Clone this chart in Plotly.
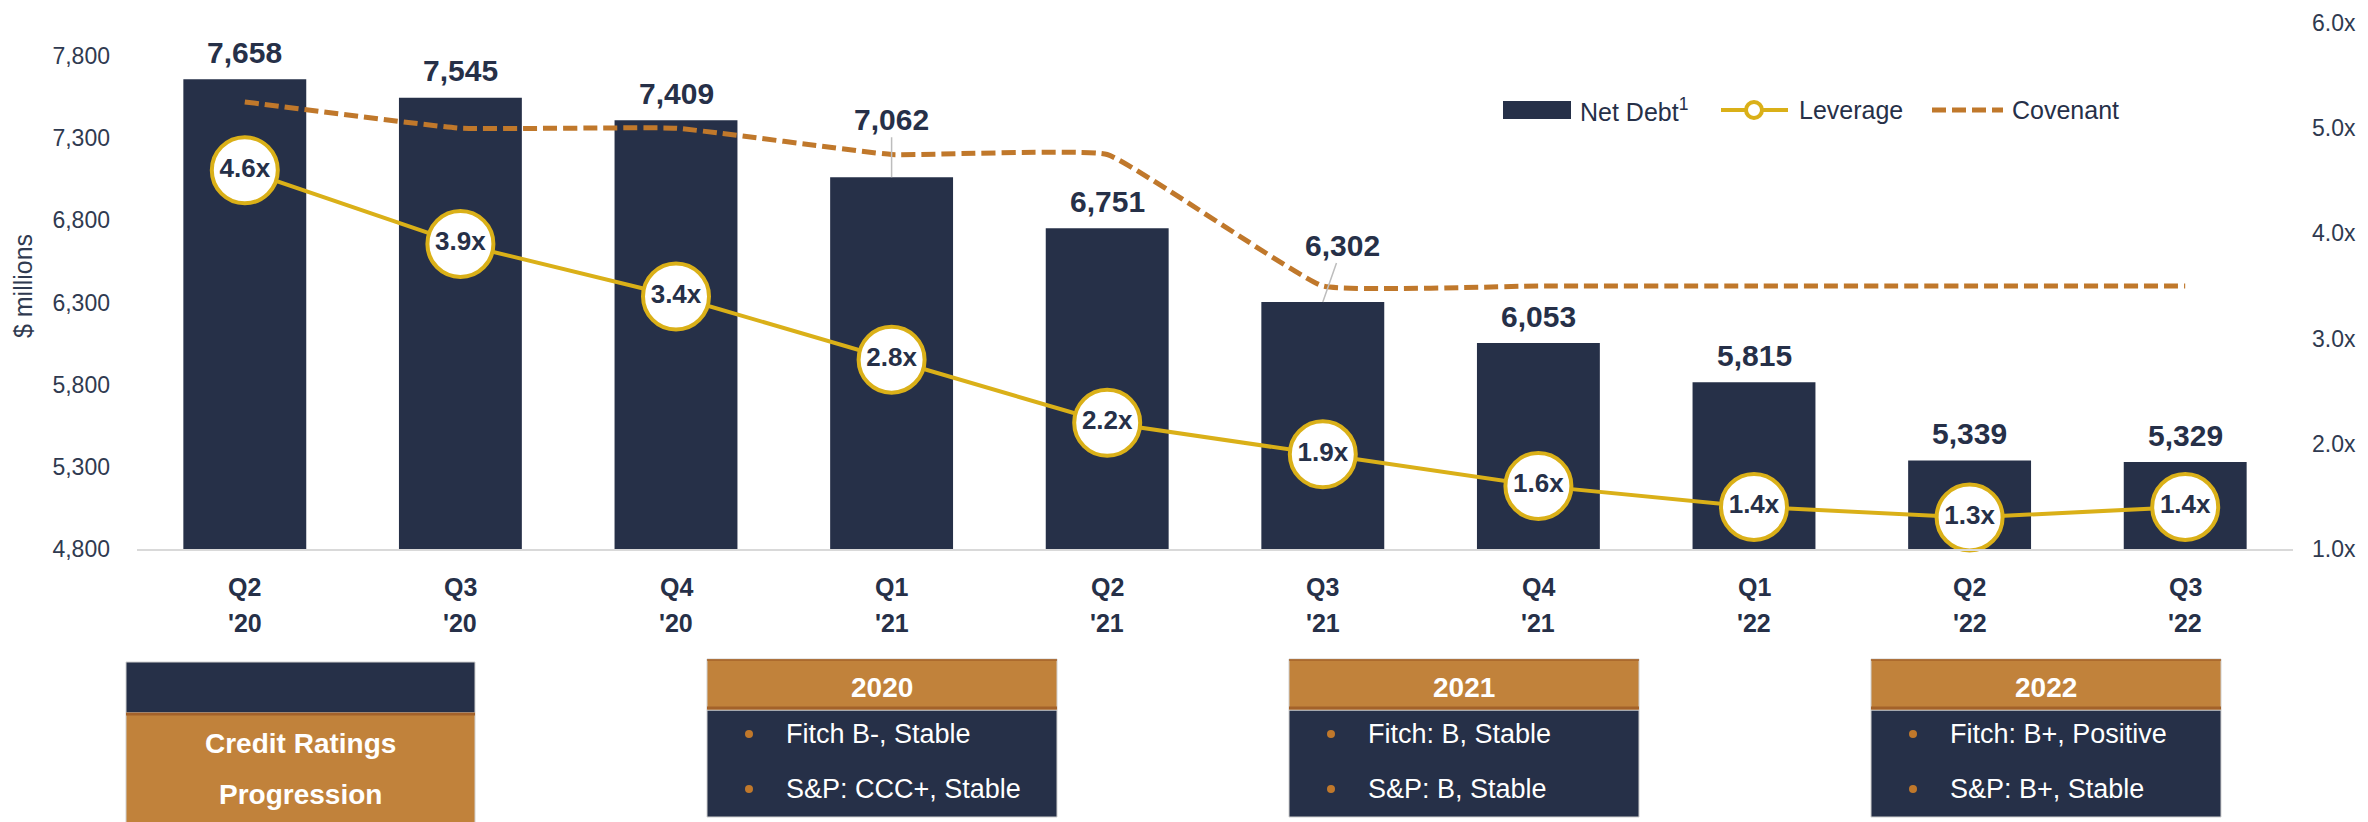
import plotly.graph_objects as go

# ---------------- data ----------------
quarter_names = ["Q2", "Q3", "Q4", "Q1", "Q2", "Q3", "Q4", "Q1", "Q2", "Q3"]
year_names = ["'20", "'20", "'20", "'21", "'21", "'21", "'21", "'22", "'22", "'22"]
quarters = [f"{q} {y}" for q, y in zip(quarter_names, year_names)]
net_debt = [7658, 7545, 7409, 7062, 6751, 6302, 6053, 5815, 5339, 5329]
leverage = [4.6, 3.9, 3.4, 2.8, 2.2, 1.9, 1.6, 1.4, 1.3, 1.4]
covenant = [5.25, 5.0, 5.0, 4.75, 4.75, 3.5, 3.5, 3.5, 3.5, 3.5]
left_ticks = [4800, 5300, 5800, 6300, 6800, 7300, 7800]
right_ticks = [1, 2, 3, 4, 5, 6]

rating_years = ["2020", "2021", "2022"]
fitch = ["Fitch B-, Stable", "Fitch: B, Stable", "Fitch: B+, Positive"]
sp = ["S&P: CCC+, Stable", "S&P: B, Stable", "S&P: B+, Stable"]

# ---------------- styles ----------------
PAGE_OFF = 8                      # default body margin of the html page
W, H = 2368 - PAGE_OFF, 822 - PAGE_OFF
PLOT_L, PLOT_R, PLOT_T, PLOT_B = 137, 2293, 23, 549   # page pixel coords
PW, PH = PLOT_R - PLOT_L, PLOT_B - PLOT_T
ML, MT = PLOT_L - PAGE_OFF, PLOT_T - PAGE_OFF
MR, MB = W - ML - PW, H - MT - PH
NAVY = "#263048"
ORANGE = "#C1823B"
ORANGE_DK = "#A4622A"
COV = "#C0782B"
GOLD = "#DAB018"
TICKC = "#2F3A50"
FONT = "Liberation Sans, Arial, sans-serif"


def px_x(p):
    return (p - PLOT_L) / PW


def px_y(p):
    return (PLOT_B - p) / PH


fig = go.Figure()

fig.add_trace(go.Bar(
    x=quarters, y=net_debt, name="Net Debt", marker=dict(color=NAVY, line=dict(width=0)),
    width=0.57, yaxis="y", showlegend=False, hoverinfo="skip"))

fig.add_trace(go.Scatter(
    x=quarters, y=covenant, name="Covenant", mode="lines", yaxis="y2",
    line=dict(color=COV, width=5, dash="14px,6px", shape="spline", smoothing=0.3),
    showlegend=False, hoverinfo="skip"))

fig.add_trace(go.Scatter(
    x=quarters, y=leverage, name="Leverage", mode="lines+markers+text", yaxis="y2",
    line=dict(color=GOLD, width=4),
    marker=dict(size=66, color="white", line=dict(color=GOLD, width=4)),
    text=[f"{v:.1f}x" for v in leverage], textposition="middle center",
    textfont=dict(family=FONT, size=26, color=NAVY, weight="bold"),
    showlegend=False, hoverinfo="skip", cliponaxis=False))

annotations = []
shapes = []

# category labels (two lines, wide spacing)
for q, qn, yn in zip(quarters, quarter_names, year_names):
    annotations.append(dict(x=q, xref="x", y=px_y(587), yref="paper", text=qn,
                            showarrow=False, xanchor="center", yanchor="middle",
                            font=dict(family=FONT, size=25, color=NAVY, weight="bold")))
    annotations.append(dict(x=q, xref="x", y=px_y(623), yref="paper", text=yn,
                            showarrow=False, xanchor="center", yanchor="middle",
                            font=dict(family=FONT, size=25, color=NAVY, weight="bold")))

# bar value labels
special = {3: (0, -58), 5: (20, -57)}
for i, (q, v) in enumerate(zip(quarters, net_debt)):
    if i in special:
        ax, ay = special[i]
        annotations.append(dict(
            x=q, y=v, xref="x", yref="y", text=f"{v:,}", showarrow=True,
            ax=ax, ay=ay, arrowhead=0, arrowwidth=1.5, arrowcolor="#BDBDBD", standoff=0,
            font=dict(family=FONT, size=30, color=NAVY, weight="bold")))
    else:
        annotations.append(dict(
            x=q, y=v, xref="x", yref="y", text=f"{v:,}", showarrow=False,
            yshift=27, yanchor="middle",
            font=dict(family=FONT, size=30, color=NAVY, weight="bold")))

# ---------------- legend (drawn) ----------------
LY = 110
shapes.append(dict(type="rect", xref="paper", yref="paper",
                   x0=px_x(1503), x1=px_x(1571), y0=px_y(119), y1=px_y(101),
                   fillcolor=NAVY, line=dict(width=0)))
annotations.append(dict(xref="paper", yref="paper", x=px_x(1578), y=px_y(LY),
                        xanchor="left", yanchor="middle", showarrow=False,
                        text="Net Debt<sup>1</sup>",
                        font=dict(family=FONT, size=25, color=NAVY)))
shapes.append(dict(type="line", xref="paper", yref="paper",
                   x0=px_x(1721), x1=px_x(1788), y0=px_y(LY), y1=px_y(LY),
                   line=dict(color=GOLD, width=4)))
shapes.append(dict(type="circle", xref="paper", yref="paper",
                   x0=px_x(1746), x1=px_x(1762), y0=px_y(118), y1=px_y(102),
                   fillcolor="white", line=dict(color=GOLD, width=4)))
annotations.append(dict(xref="paper", yref="paper", x=px_x(1797), y=px_y(LY),
                        xanchor="left", yanchor="middle", showarrow=False,
                        text="Leverage", font=dict(family=FONT, size=25, color=NAVY)))
shapes.append(dict(type="line", xref="paper", yref="paper",
                   x0=px_x(1932), x1=px_x(2003), y0=px_y(LY), y1=px_y(LY),
                   line=dict(color=COV, width=5, dash="14px,6px")))
annotations.append(dict(xref="paper", yref="paper", x=px_x(2010), y=px_y(LY),
                        xanchor="left", yanchor="middle", showarrow=False,
                        text="Covenant", font=dict(family=FONT, size=25, color=NAVY)))

# ---------------- credit ratings boxes ----------------
shapes.append(dict(type="rect", xref="paper", yref="paper",
                   x0=px_x(126), x1=px_x(475), y0=px_y(713), y1=px_y(662),
                   fillcolor=NAVY, line=dict(color="#D0D0D0", width=1)))
shapes.append(dict(type="rect", xref="paper", yref="paper",
                   x0=px_x(126), x1=px_x(475), y0=px_y(830), y1=px_y(713),
                   fillcolor=ORANGE, line=dict(color="#D0D0D0", width=1)))
shapes.append(dict(type="line", xref="paper", yref="paper",
                   x0=px_x(126), x1=px_x(475), y0=px_y(714), y1=px_y(714),
                   line=dict(color=ORANGE_DK, width=3)))
annotations.append(dict(xref="paper", yref="paper", x=px_x(300.5), y=px_y(743),
                        xanchor="center", yanchor="middle", showarrow=False,
                        text="Credit Ratings",
                        font=dict(family=FONT, size=28, color="white", weight="bold")))
annotations.append(dict(xref="paper", yref="paper", x=px_x(300.5), y=px_y(795),
                        xanchor="center", yanchor="middle", showarrow=False,
                        text="Progression",
                        font=dict(family=FONT, size=28, color="white", weight="bold")))

box_lefts = [707, 1289, 1871]
BW = 350
for left, yr, f, s in zip(box_lefts, rating_years, fitch, sp):
    shapes.append(dict(type="rect", xref="paper", yref="paper",
                       x0=px_x(left), x1=px_x(left + BW), y0=px_y(817), y1=px_y(710),
                       fillcolor=NAVY, line=dict(color="#D0D0D0", width=1)))
    shapes.append(dict(type="rect", xref="paper", yref="paper",
                       x0=px_x(left), x1=px_x(left + BW), y0=px_y(710), y1=px_y(659),
                       fillcolor=ORANGE, line=dict(color="#D0D0D0", width=1)))
    shapes.append(dict(type="line", xref="paper", yref="paper",
                       x0=px_x(left), x1=px_x(left + BW), y0=px_y(708), y1=px_y(708),
                       line=dict(color=ORANGE_DK, width=3)))
    shapes.append(dict(type="line", xref="paper", yref="paper",
                       x0=px_x(left), x1=px_x(left + BW), y0=px_y(660), y1=px_y(660),
                       line=dict(color=ORANGE_DK, width=1.5)))
    annotations.append(dict(xref="paper", yref="paper", x=px_x(left + BW / 2), y=px_y(687),
                            xanchor="center", yanchor="middle", showarrow=False, text=yr,
                            font=dict(family=FONT, size=28, color="white", weight="bold")))
    for ty, txt in ((734, f), (789, s)):
        shapes.append(dict(type="circle", xref="paper", yref="paper",
                           x0=px_x(left + 38), x1=px_x(left + 46),
                           y0=px_y(ty + 4), y1=px_y(ty - 4),
                           fillcolor=COV, line=dict(width=0)))
        annotations.append(dict(xref="paper", yref="paper", x=px_x(left + 77), y=px_y(ty),
                                xanchor="left", yanchor="middle", showarrow=False, text=txt,
                                font=dict(family=FONT, size=27, color="white")))

fig.update_layout(
    width=W, height=H,
    margin=dict(l=ML, r=MR, t=MT, b=MB, autoexpand=False),
    paper_bgcolor="white", plot_bgcolor="white",
    font=dict(family=FONT, color=NAVY),
    showlegend=False,
    xaxis=dict(type="category", categoryorder="array", categoryarray=quarters,
               range=[-0.5, 9.5], showgrid=False, zeroline=False,
               showline=True, linecolor="#D9D9D9", linewidth=2,
               ticks="", showticklabels=False),
    yaxis=dict(range=[4800, 8000], tickvals=left_ticks,
               ticktext=[f"{v:,}" for v in left_ticks],
               showgrid=False, zeroline=False, showline=False, ticks="",
               ticklabelstandoff=26,
               tickfont=dict(family=FONT, size=23, color=TICKC),
               title=dict(text="$ millions", standoff=12,
                          font=dict(family=FONT, size=25, color=TICKC))),
    yaxis2=dict(range=[1, 6], tickvals=right_ticks,
                ticktext=[f"{v:.1f}x" for v in right_ticks],
                overlaying="y", side="right", showgrid=False, zeroline=False,
                showline=False, ticks="", ticklabelstandoff=18,
                tickfont=dict(family=FONT, size=23, color=TICKC)),
    shapes=shapes,
    annotations=annotations,
)

fig.write_html("out.html")
